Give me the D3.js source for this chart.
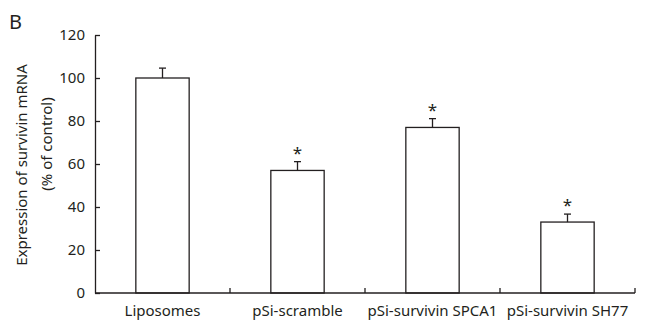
<!DOCTYPE html>
<html>
<head>
<meta charset="utf-8">
<script src="https://cdn.jsdelivr.net/npm/d3@7"></script>
<style>
  html, body { margin: 0; padding: 0; background: #fff; }
  svg { display: block; }
  text { font-family: "Noto Sans", "Open Sans", sans-serif; fill: #231f20; }
</style>
</head>
<body>
<svg id="chart" width="658" height="322"></svg>
<script>
const categories = ["Liposomes", "pSi-scramble", "pSi-survivin SPCA1", "pSi-survivin SH77"];
const values = [100, 57, 77, 33];
const errors = [4.6, 4.1, 4.1, 3.7];
const significant = [false, true, true, true];
const yTicks = [0, 20, 40, 60, 80, 100, 120];

const ink = "#231f20";
const svg = d3.select("#chart");

const x = d3.scaleBand().domain(categories).range([95, 635]).padding(0);
const y = d3.scaleLinear().domain([0, 120]).range([293, 35]);
const barW = x.bandwidth() * 0.395;

// Panel letter
svg.append("text").attr("x", 9).attr("y", 29)
  .style("font-size", "20px").text("B");

// Y axis
const yAxis = d3.axisLeft(y).tickValues(yTicks).tickSizeInner(-5).tickSizeOuter(0).tickPadding(10);
const gy = svg.append("g").attr("transform", "translate(95,0)").call(yAxis);
gy.selectAll("path, line").attr("stroke", ink).attr("stroke-width", 1.3);
gy.selectAll("text").style("font-size", "15px").attr("fill", ink)
  .style("font-family", '"Noto Sans", "Open Sans", sans-serif');

// Y axis title
svg.append("text")
  .attr("transform", `translate(27,165) rotate(-90)`)
  .attr("text-anchor", "middle").style("font-size", "15px")
  .text("Expression of survivin mRNA");
svg.append("text")
  .attr("transform", `translate(52,144) rotate(-90)`)
  .attr("text-anchor", "middle").style("font-size", "15px")
  .text("(% of control)");

// Bars
const bars = svg.append("g");
categories.forEach((c, i) => {
  const cx = x(c) + x.bandwidth() / 2;
  bars.append("rect")
    .attr("x", cx - barW / 2).attr("y", y(values[i]))
    .attr("width", barW).attr("height", y(0) - y(values[i]))
    .attr("fill", "#fff").attr("stroke", ink).attr("stroke-width", 1.3);
  const top = y(values[i] + errors[i]);
  bars.append("line").attr("x1", cx).attr("x2", cx)
    .attr("y1", y(values[i])).attr("y2", top)
    .attr("stroke", ink).attr("stroke-width", 1.3);
  bars.append("line").attr("x1", cx - 3.5).attr("x2", cx + 3.5)
    .attr("y1", top).attr("y2", top)
    .attr("stroke", ink).attr("stroke-width", 1.3);
  if (significant[i]) {
    bars.append("text").attr("x", cx).attr("y", top - 3)
      .attr("text-anchor", "middle").style("font-size", "17px").text("*");
  }
});

// X axis
const gx = svg.append("g");
gx.append("line").attr("x1", x.range()[0]).attr("x2", x.range()[1])
  .attr("y1", y(0)).attr("y2", y(0)).attr("stroke", ink).attr("stroke-width", 1.3);
categories.forEach(c => {
  const bx = x(c) + x.bandwidth();
  gx.append("line").attr("x1", bx).attr("x2", bx)
    .attr("y1", y(0)).attr("y2", y(0) - 5).attr("stroke", ink).attr("stroke-width", 1.3);
  gx.append("text").attr("x", x(c) + x.bandwidth() / 2).attr("y", 316)
    .attr("text-anchor", "middle").style("font-size", "15px").text(c);
});
</script>
</body>
</html>
